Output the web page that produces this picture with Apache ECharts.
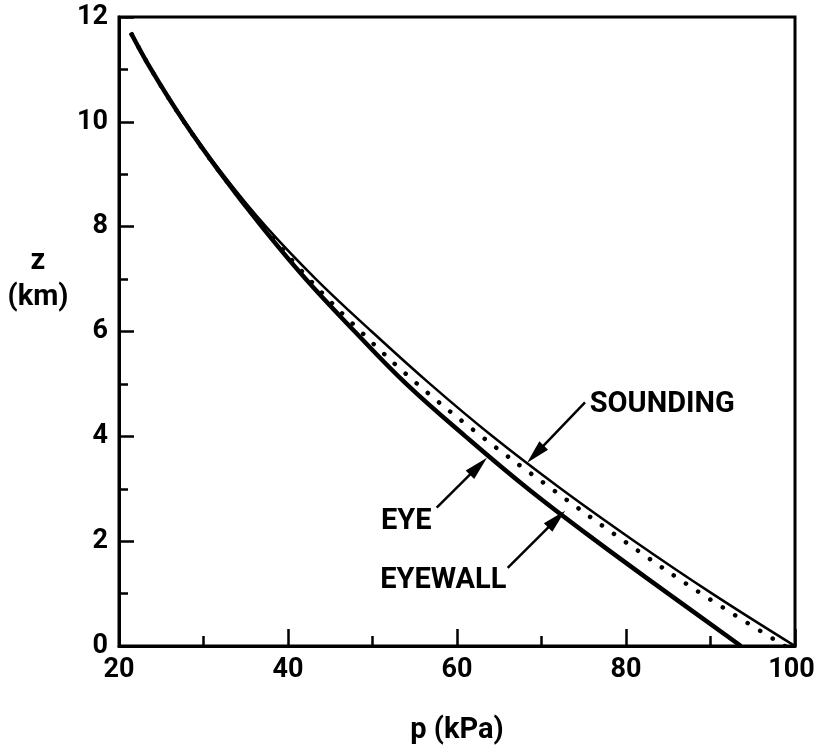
<!DOCTYPE html>
<html><head><meta charset="utf-8">
<script src="https://cdn.jsdelivr.net/npm/echarts@6/dist/echarts.min.js"></script>
<style>html,body{margin:0;padding:0;background:#fff}#c{width:815px;height:751px}</style>
</head><body><div id="c"></div>
<script>
// heights (km)
const zKm = [0, 1, 2, 3, 4, 5, 6, 7, 8, 9, 10, 11, 11.7];
// pressure (kPa) at those heights
const pSounding = [100, 90.2, 81.0, 72.3, 64.2, 56.8, 49.9, 43.3, 37.4, 32.3, 27.8, 23.8, 21.4];
const pEye      = [93.6, 85.0, 76.5, 68.4, 61.0, 54.0, 47.9, 42.1, 36.9, 32.1, 27.7, 23.8, 21.4];
const pEyewall  = [98.8, 88.9, 79.8, 71.2, 62.9, 55.3, 48.6, 42.5, 37.1, 32.1, 27.7, 23.8, 21.4];
// annotation labels: text anchor (left-middle) and arrow [from, to] in data units
const labelNames = ['SOUNDING', 'EYE', 'EYEWALL'];
const labelAt    = [[75.7, 4.61], [51.0, 2.37], [50.9, 1.24]];
const arrowFrom  = [[75.15, 4.65], [57.6, 2.64], [66.0, 1.49]];
const arrowTo    = [[69.28, 3.66], [62.54, 3.43], [71.79, 2.42]];

const FONT = "Roboto,'Liberation Sans',sans-serif";
const txt = {color: '#000', fontFamily: FONT, fontWeight: 'bold', fontSize: 29};
const tickTxt = {color: '#000', fontFamily: FONT, fontWeight: 'bold', fontSize: 27};

const chart = echarts.init(document.getElementById('c'), null, {renderer: 'canvas'});
const pairs = arr => zKm.map((z, i) => [arr[i], z]);

const option = {
  animation: false,
  backgroundColor: '#fff',
  title: {
    text: 'z\n(km)', left: 38, top: 244, padding: 0, textAlign: 'center',
    textStyle: Object.assign({}, txt, {lineHeight: 36})
  },
  grid: {
    left: 119, right: 20, top: 17, bottom: 105,
    show: true, borderColor: '#000', borderWidth: 3, backgroundColor: 'transparent',
    outerBoundsMode: 'none'
  },
  xAxis: {
    type: 'value', min: 20, max: 100, interval: 20,
    name: 'p (kPa)', nameLocation: 'middle', nameGap: 70,
    nameTextStyle: Object.assign({}, txt),
    axisLine: {show: true, onZero: false, lineStyle: {color: '#000', width: 3}},
    axisTick: {show: true, inside: true, length: 17, lineStyle: {color: '#000', width: 2.5}},
    minorTick: {show: true, splitNumber: 2, length: 10, lineStyle: {color: '#000', width: 2.5}},
    axisLabel: Object.assign({}, tickTxt, {
      margin: 11,
      formatter: v => (v === 100 ? '{m|' + v + '}' : String(v)),
      rich: {m: Object.assign({}, tickTxt, {padding: [0, 7, 0, 0]})}
    }),
    splitLine: {show: false}, minorSplitLine: {show: false}
  },
  yAxis: {
    type: 'value', min: 0, max: 12, interval: 2,
    axisLine: {show: true, onZero: false, lineStyle: {color: '#000', width: 3}},
    axisTick: {show: true, inside: true, length: 15, lineStyle: {color: '#000', width: 2.5}},
    minorTick: {show: true, splitNumber: 2, length: 9, lineStyle: {color: '#000', width: 2.5}},
    axisLabel: Object.assign({}, tickTxt, {margin: 11}),
    splitLine: {show: false}, minorSplitLine: {show: false}
  },
  series: [
    {
      type: 'line', name: 'SOUNDING', data: pairs(pSounding),
      showSymbol: false, smooth: 0.4, silent: true,
      lineStyle: {color: '#000', width: 2.5},
      markLine: {
        silent: true, symbol: ['none', 'triangle'], symbolSize: [12, 24],
        lineStyle: {color: '#000', width: 2.5, type: 'solid'},
        itemStyle: {color: '#000'},
        label: {show: false},
        data: arrowFrom.map((f, i) => [{coord: f}, {coord: arrowTo[i]}])
      },
      markPoint: {
        silent: true, symbol: 'circle', symbolSize: 0.1,
        itemStyle: {color: 'rgba(0,0,0,0)'},
        label: Object.assign({show: true, position: 'right', distance: 0, formatter: '{b}'}, txt),
        data: labelNames.map((n, i) => ({name: n, coord: labelAt[i]}))
      }
    },
    {
      type: 'line', name: 'EYEWALL', data: pairs(pEyewall),
      showSymbol: false, smooth: 0.4, silent: true,
      lineStyle: {color: '#000', width: 4.5, type: [0.1, 14.5], cap: 'round'}
    },
    {
      type: 'line', name: 'EYE', data: pairs(pEye),
      showSymbol: false, smooth: 0.4, silent: true,
      lineStyle: {color: '#000', width: 4.5}
    }
  ]
};
chart.setOption(option);
</script>
</body></html>
